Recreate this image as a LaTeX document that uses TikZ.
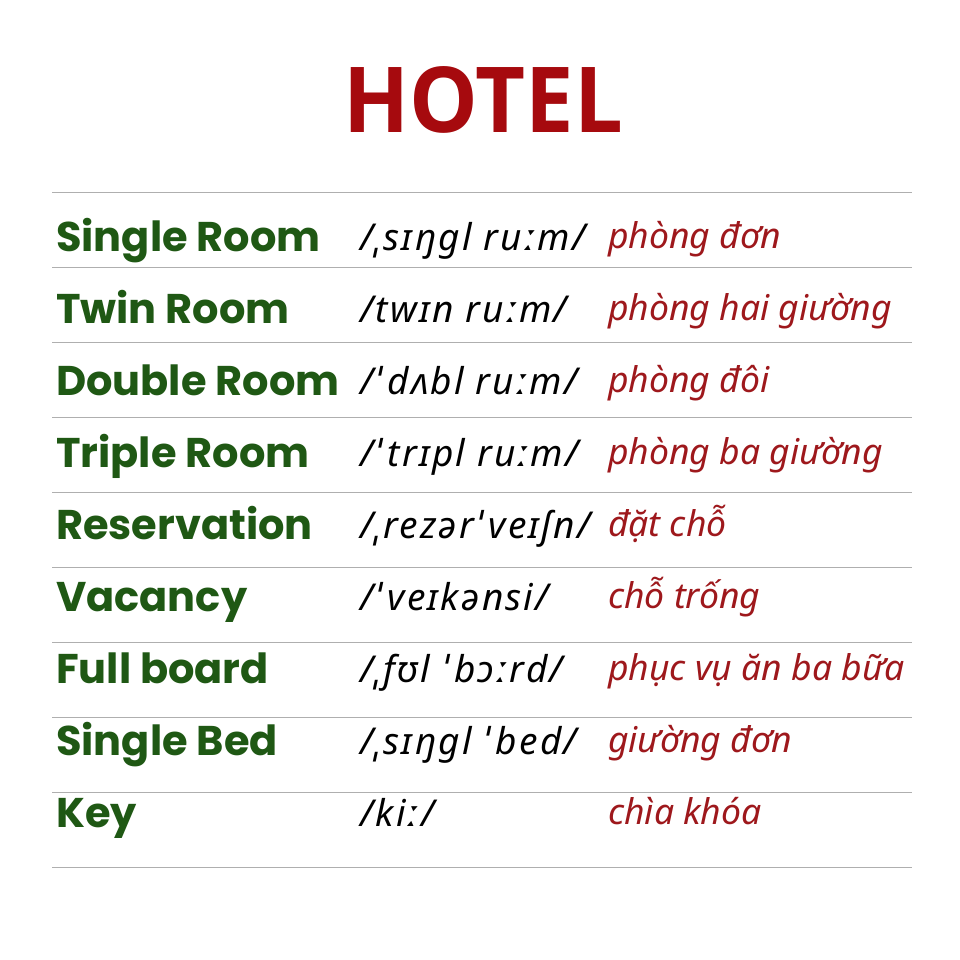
\documentclass[tikz,border=0pt]{standalone}
\usepackage{fontspec}
\setmainfont{Noto Sans}
\newfontfamily\titlefont{Open Sans}
\newfontfamily\wordfont{Poppins}
\newfontfamily\ipafont[LetterSpace=6]{Noto Sans}
\usetikzlibrary{positioning}

\definecolor{titlered}{RGB}{166,10,14}
\definecolor{wordgreen}{RGB}{31,88,20}
\definecolor{meaningred}{RGB}{158,24,28}
\definecolor{rulegray}{RGB}{175,175,175}

\begin{document}
\begin{tikzpicture}[x=1pt, y=-1pt,
  every node/.style = {inner sep=0pt, anchor=base west},
  title/.style   = {anchor=base, text=titlered, font=\titlefont\bfseries\fontsize{91}{91}\selectfont, xscale=0.95},
  word/.style    = {text=wordgreen, font=\wordfont\bfseries\fontsize{41.5}{41.5}\selectfont},
  ipa/.style     = {text=black, font=\ipafont\itshape\fontsize{37}{37}\selectfont},
  meaning/.style = {text=meaningred, font=\itshape\fontsize{35.5}{35.5}\selectfont},
  rule/.style    = {draw=rulegray, line width=1.2pt}
    ]
  \useasboundingbox (0,0) rectangle (960,960);
  \fill[white] (0,0) rectangle (960,960);

  \node[title] (title) at (483,133) {HOTEL};

  % top rule and one rule under each row
  \coordinate (r0w) at (52,192.5);
  \coordinate (r0e) at (912,192.5);
  \draw[rule] (r0w) -- (r0e);

  \foreach \w/\p/\m [count=\i from 0] in {
      Single Room/ˌsɪŋgl ruːm/phòng đơn,
      Twin Room/twɪn ruːm/phòng hai giường,
      Double Room/ˈ\,dʌbl ruːm/phòng đôi,
      Triple Room/ˈ\,trɪpl ruːm/phòng ba giường,
      Reservation/ˌrezərˈ\,veɪʃn/đặt chỗ,
      Vacancy/ˈ\,veɪkənsi/chỗ trống,
      Full board/ˌfʊl ˈ\,bɔːrd/phục vụ ăn ba bữa,
      Single Bed/ˌsɪŋgl ˈ\,bed/giường đơn,
      Key/kiː/chìa khóa}
  {
    \node[word]    (word\i)    at (56,251+72*\i)  {\w};
    \node[ipa]     (ipa\i)     at (360,250+72*\i) {/\p/};
    \node[meaning] (meaning\i) at (608,248+72*\i) {\m};
    \coordinate (r\i w') at (52,267.5+75*\i);
    \coordinate (r\i e') at (912,267.5+75*\i);
    \draw[rule] (r\i w') -- (r\i e');
  }
\end{tikzpicture}
\end{document}
